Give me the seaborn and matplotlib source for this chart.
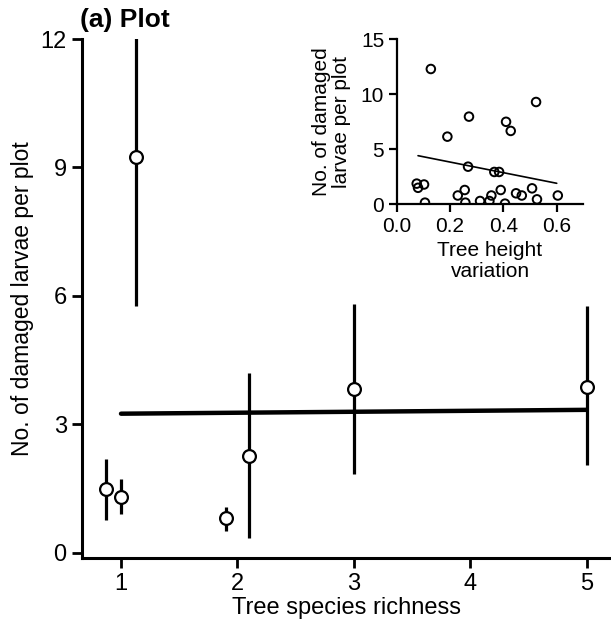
import numpy as np
import pandas as pd
import matplotlib
matplotlib.use("Agg")
import matplotlib.pyplot as plt
import seaborn as sns

# ---- main panel data ----
richness = [0.87, 1.0, 1.13, 1.9, 2.1, 3.0, 5.0]
mean_damaged = [1.50, 1.31, 9.25, 0.82, 2.27, 3.83, 3.88]
ci_low = [0.77, 0.91, 5.77, 0.51, 0.35, 1.85, 2.06]
ci_high = [2.20, 1.73, 13.0, 1.07, 4.20, 5.80, 5.77]
fit_rich_x = [1.0, 5.0]
fit_rich_y = [3.25, 3.34]
x_ticks = [1, 2, 3, 4, 5]
y_ticks = [0, 3, 6, 9, 12]

# ---- inset data ----
height_var = [0.075, 0.080, 0.1025, 0.106, 0.128, 0.19, 0.229, 0.255, 0.2575,
              0.271, 0.2675, 0.3125, 0.3475, 0.355, 0.366, 0.384, 0.39, 0.406,
              0.41, 0.4275, 0.4475, 0.469, 0.5075, 0.5225, 0.526, 0.604]
damaged = [1.88, 1.50, 1.80, 0.15, 12.3, 6.15, 0.80, 1.30, 0.15,
           7.97, 3.42, 0.30, 0.30, 0.80, 2.94, 2.94, 1.30, 0.06,
           7.50, 6.67, 1.00, 0.80, 1.45, 9.30, 0.45, 0.80]
fit_h_x = [0.08, 0.60]
fit_h_y = [4.42, 1.91]
inset_x_ticks = [0.0, 0.2, 0.4, 0.6]
inset_y_ticks = [0, 5, 10, 15]

sns.set_theme(style="ticks")
plt.rcParams['font.family'] = ['Liberation Sans', 'DejaVu Sans']
plt.rcParams.update({"text.color": "black", "axes.labelcolor": "black",
                     "xtick.color": "black", "ytick.color": "black",
                     "axes.edgecolor": "black"})

fig = plt.figure(figsize=(6.11, 6.27), dpi=100)
ax = fig.add_axes([82/611, 1 - 558/627, (610 - 82)/611, (558 - 39)/627])

main_df = pd.DataFrame({"x": richness, "y": mean_damaged, "lo": ci_low, "hi": ci_high})
fit_df = pd.DataFrame({"x": fit_rich_x, "y": fit_rich_y})

ax.vlines(main_df["x"], main_df["lo"], main_df["hi"], color="black", lw=2.3, zorder=2)
sns.lineplot(data=fit_df, x="x", y="y", ax=ax, color="black", lw=3.2, zorder=3)
sns.scatterplot(data=main_df, x="x", y="y", ax=ax, s=85, marker="o",
                facecolor="white", edgecolor="black", linewidth=1.6, zorder=4)

ax.set_xlim(0.665, 5.2)
ax.set_ylim(-0.12, 12)
ax.set_xticks(x_ticks)
ax.set_yticks(y_ticks)
ax.tick_params(axis="both", labelsize=17, width=2, length=7, pad=4,
               color="black", labelcolor="black")
ax.set_xlabel("Tree species richness", fontsize=17, labelpad=1, color="black")
ax.set_ylabel("No. of damaged larvae per plot", fontsize=16.5, labelpad=5, color="black")
for side in ["top", "right"]:
    ax.spines[side].set_visible(False)
for side in ["left", "bottom"]:
    ax.spines[side].set_linewidth(2.2)
    ax.spines[side].set_color("black")

fig.text(80/611, 1 - 20/627, "(a) Plot", fontsize=19, fontweight="bold",
         ha="left", va="center", color="black")

# ---- inset ----
ins = fig.add_axes([396.7/611, 1 - 204.3/627, (583.4 - 396.7)/611, (204.3 - 39.3)/627])
ins_df = pd.DataFrame({"x": height_var, "y": damaged})
ins_fit = pd.DataFrame({"x": fit_h_x, "y": fit_h_y})
sns.lineplot(data=ins_fit, x="x", y="y", ax=ins, color="black", lw=1.2, zorder=2)
sns.scatterplot(data=ins_df, x="x", y="y", ax=ins, s=38, marker="o",
                facecolor="none", edgecolor="black", linewidth=1.4, zorder=3)
ins.set_xlim(0, 0.7)
ins.set_ylim(0, 15)
ins.set_xticks(inset_x_ticks)
ins.set_xticklabels([f"{v:.1f}" for v in inset_x_ticks])
ins.set_yticks(inset_y_ticks)
ins.tick_params(axis="both", labelsize=15, width=1.6, length=6, pad=3,
                color="black", labelcolor="black")
ins.set_xlabel("Tree height\nvariation", fontsize=15, labelpad=4, linespacing=1.1, color="black")
ins.set_ylabel("No. of damaged\nlarvae per plot", fontsize=15, labelpad=7, linespacing=1.1, color="black")
ins.patch.set_alpha(0)
for side in ["top", "right"]:
    ins.spines[side].set_visible(False)
for side in ["left", "bottom"]:
    ins.spines[side].set_linewidth(1.6)
    ins.spines[side].set_color("black")

fig.savefig("out.png", dpi=100)
